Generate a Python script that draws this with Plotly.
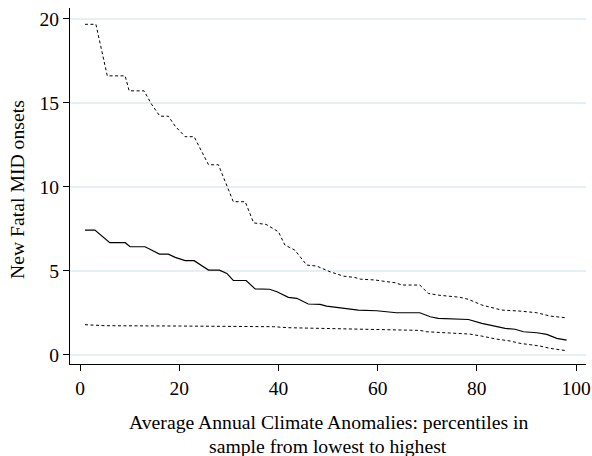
import plotly.graph_objects as go

# Upper 95% bound (dashed)
upper_x = [1, 3.2, 5.5, 9.1, 9.9, 12.9, 14.4, 16.1, 17.8, 19.2, 21.2, 23.0, 25.9, 27.9, 30.9, 33.3,
           35.0, 37.5, 40.0, 41.3, 43.3, 45.7, 47.7, 50.4, 53.1, 55.4, 56.5, 59.5, 61.8, 63.5, 64.9,
           68.5, 70.2, 72.2, 76.6, 78.3, 81, 83, 85, 88.7, 92.1, 94.8, 98.1]
upper_y = [19.67, 19.67, 16.6, 16.6, 15.71, 15.71, 14.92, 14.2, 14.2, 13.6, 12.98, 12.98, 11.31, 11.31,
           9.11, 9.11, 7.85, 7.76, 7.32, 6.53, 6.23, 5.34, 5.28, 4.94, 4.68, 4.6, 4.5, 4.45, 4.35, 4.29,
           4.15, 4.15, 3.65, 3.55, 3.42, 3.3, 2.96, 2.8, 2.66, 2.6, 2.5, 2.3, 2.2]

# Point estimate (solid)
est_x = [1, 3.0, 6.0, 9.1, 10.1, 13.1, 14.4, 16.0, 17.8, 19.2, 21.2, 23.0, 25.9, 28.1, 29.6, 30.9,
         33.5, 35.3, 38.2, 39.7, 42, 43.7, 46, 48.4, 49.7, 52.1, 53.8, 56.1, 59.8, 63.8, 68.5, 70.6,
         72.2, 74.6, 78.3, 81, 83.7, 85.7, 87.7, 89.4, 92.1, 94.1, 96.1, 98.1]
est_y = [7.42, 7.42, 6.67, 6.67, 6.43, 6.43, 6.23, 5.99, 5.99, 5.8, 5.6, 5.6, 5.04, 5.04, 4.84, 4.42,
         4.42, 3.92, 3.9, 3.75, 3.42, 3.36, 3.02, 3.0, 2.9, 2.82, 2.76, 2.66, 2.62, 2.5, 2.5, 2.26,
         2.17, 2.15, 2.1, 1.87, 1.71, 1.57, 1.52, 1.37, 1.31, 1.21, 0.98, 0.87]

# Lower 95% bound (dashed)
lower_x = [1, 5, 20, 36, 39, 42, 50, 56.5, 62.7, 68.5, 69.9, 78.6, 81, 84, 86.7, 88.7, 92.7, 94.8, 98.1]
lower_y = [1.79, 1.73, 1.71, 1.69, 1.67, 1.61, 1.57, 1.51, 1.47, 1.45, 1.37, 1.23, 1.11, 0.93, 0.82,
           0.68, 0.52, 0.38, 0.24]

x_ticks = [0, 20, 40, 60, 80, 100]
y_ticks = [0, 5, 10, 15, 20]

x_title_lines = ["Average Annual Climate Anomalies: percentiles in",
                 "sample from lowest to highest"]
y_title = "New Fatal MID onsets"

FONT = "Liberation Serif, Times New Roman, serif"
dash = "3px,2.5px"

fig = go.Figure()
fig.add_trace(go.Scatter(x=upper_x, y=upper_y, mode="lines",
                         line=dict(color="black", width=1, dash=dash), showlegend=False))
fig.add_trace(go.Scatter(x=est_x, y=est_y, mode="lines",
                         line=dict(color="black", width=1.2), showlegend=False))
fig.add_trace(go.Scatter(x=lower_x, y=lower_y, mode="lines",
                         line=dict(color="black", width=1, dash=dash), showlegend=False))

title_font = dict(family=FONT, size=19.7, color="black")
fig.update_layout(
    width=592, height=456,
    margin=dict(l=70, r=6, t=8, b=92, autoexpand=False),
    paper_bgcolor="white", plot_bgcolor="white",
    font=dict(family=FONT, size=19, color="black"),
    showlegend=False,
    annotations=[
        dict(text=x_title_lines[0], xref="paper", yref="paper", x=0.5, y=-0.1629,
             xanchor="center", yanchor="middle", showarrow=False, font=title_font),
        dict(text=x_title_lines[1], xref="paper", yref="paper", x=0.5, y=-0.2303,
             xanchor="center", yanchor="middle", showarrow=False, font=title_font),
        dict(text=y_title, xref="paper", yref="paper", x=-0.1027, y=0.4888,
             xanchor="center", yanchor="middle", textangle=-90, showarrow=False,
             font=title_font),
    ],
)
fig.update_xaxes(
    range=[-2.02, 102], tickvals=x_ticks, ticks="outside", ticklen=6, tickwidth=1,
    tickcolor="black", showline=True, linecolor="black", linewidth=1.2, showgrid=False,
    zeroline=False, automargin=False, tickfont=dict(family=FONT, size=19.5, color="black"),
)
fig.update_yaxes(
    range=[-0.55, 20.64], tickvals=y_ticks, ticks="outside", ticklen=6, tickwidth=1,
    tickcolor="black", showline=True, linecolor="black", linewidth=1.2, showgrid=True,
    gridcolor="#E6EFF1", gridwidth=1.5, zeroline=False, automargin=False,
    tickfont=dict(family=FONT, size=19.5, color="black"),
)

fig.write_html("out.html", config={"displayModeBar": False},
               post_script="document.body.style.margin='0';document.body.style.overflow='hidden';")
